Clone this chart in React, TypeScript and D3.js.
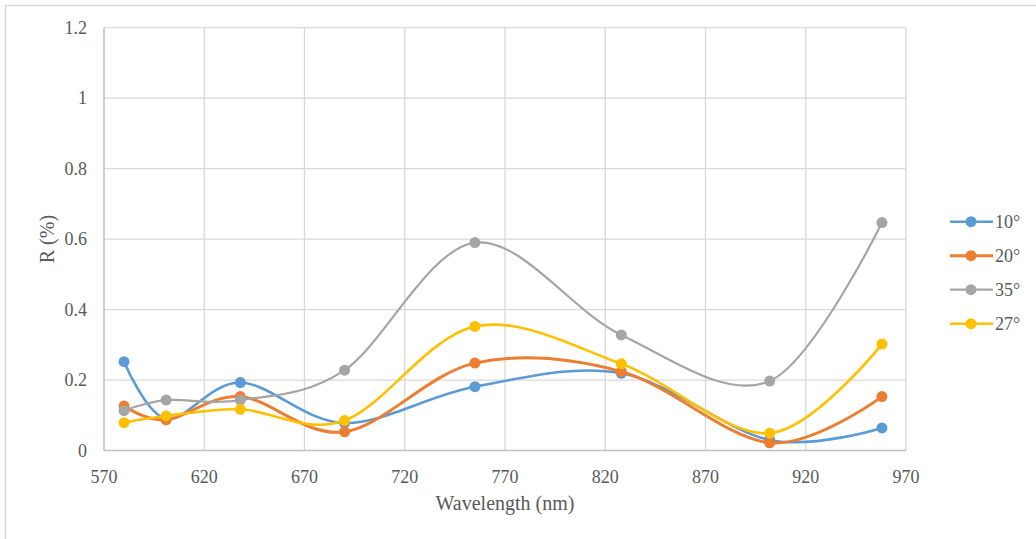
import React from "react";
import * as d3 from "d3";

const wavelengths = [580, 601, 638, 690, 755, 828, 902, 958];
const series10 = [0.252, 0.09, 0.193, 0.078, 0.181, 0.219, 0.03, 0.064];
const series20 = [0.126, 0.087, 0.153, 0.053, 0.248, 0.224, 0.022, 0.153];
const series35 = [0.113, 0.143, 0.143, 0.228, 0.59, 0.328, 0.197, 0.647];
const series27 = [0.079, 0.098, 0.117, 0.085, 0.352, 0.246, 0.049, 0.302];
const seriesNames = ["10°", "20°", "35°", "27°"];
const xTicks = [570, 620, 670, 720, 770, 820, 870, 920, 970];
const yTicks = [0, 0.2, 0.4, 0.6, 0.8, 1, 1.2];

const colors = ["#5B9BD5", "#ED7D31", "#A5A5A5", "#FFC000"];
const widths = [2.6, 3, 2.2, 2.6];

const FONT = '"Liberation Serif"';

export default function App() {
  const W = 1036, H = 539;
  const x = d3.scaleLinear().domain([570, 970]).range([104, 906]);
  const y = d3.scaleLinear().domain([0, 1.2]).range([450.5, 27.7]);
  const all = [series10, series20, series35, series27];
  const line = d3
    .line<[number, number]>()
    .x((d) => x(d[0]))
    .y((d) => y(d[1]))
    .curve(d3.curveCardinal.tension(0));
  const textColor = "#595959";
  const ts = { fontFamily: FONT };
  return (
    <svg
      width={W}
      height={H}
      style={{ position: "absolute", left: 0, top: 0, background: "#fff" }}
    >
      <rect x={5.5} y={5.5} width={W + 10} height={H + 10} fill="#fff" stroke="#d9d9d9" strokeWidth={1.5} />
      {xTicks.slice(1).map((t) => (
        <line key={"gx" + t} x1={x(t)} x2={x(t)} y1={y(1.2)} y2={y(0)} stroke="#d9d9d9" strokeWidth={1.3} />
      ))}
      {yTicks.slice(1).map((t) => (
        <line key={"gy" + t} x1={x(570)} x2={x(970)} y1={y(t)} y2={y(t)} stroke="#d9d9d9" strokeWidth={1.3} />
      ))}
      <line x1={x(570)} x2={x(570)} y1={y(1.2)} y2={y(0)} stroke="#bfbfbf" strokeWidth={1.5} />
      <line x1={x(570)} x2={x(970)} y1={y(0)} y2={y(0)} stroke="#bfbfbf" strokeWidth={1.5} />
      {yTicks.map((t) => (
        <text key={"yl" + t} x={87} y={y(t)} dy="0.35em" textAnchor="end" fontSize={18} fill={textColor} style={ts}>
          {d3.format("~g")(t)}
        </text>
      ))}
      {xTicks.map((t) => (
        <text key={"xl" + t} x={x(t)} y={477} dy="0.35em" textAnchor="middle" fontSize={18} fill={textColor} style={ts}>
          {t}
        </text>
      ))}
      <text x={(x(570) + x(970)) / 2} y={503} dy="0.35em" textAnchor="middle" fontSize={20} fill={textColor} style={ts}>
        Wavelength (nm)
      </text>
      <text
        transform={`translate(47, ${(y(0) + y(1.2)) / 2}) rotate(-90)`}
        dy="0.35em"
        textAnchor="middle"
        fontSize={20}
        fill={textColor}
        style={ts}
      >
        R (%)
      </text>
      {all.map((s, i) => {
        const pts = wavelengths.map((w, j) => [w, s[j]] as [number, number]);
        return (
          <g key={"s" + i}>
            <path d={line(pts) || ""} fill="none" stroke={colors[i]} strokeWidth={widths[i]} />
            {pts.map((p, j) => (
              <circle key={j} cx={x(p[0])} cy={y(p[1])} r={5.5} fill={colors[i]} />
            ))}
          </g>
        );
      })}
      {seriesNames.map((n, i) => {
        const cy = 221.7 + i * 34;
        return (
          <g key={"lg" + i}>
            <line x1={950} x2={993} y1={cy} y2={cy} stroke={colors[i]} strokeWidth={widths[i]} />
            <circle cx={971} cy={cy} r={5.5} fill={colors[i]} />
            <text x={995} y={cy} dy="0.35em" fontSize={18} fill={textColor} style={ts}>
              {n}
            </text>
          </g>
        );
      })}
    </svg>
  );
}
